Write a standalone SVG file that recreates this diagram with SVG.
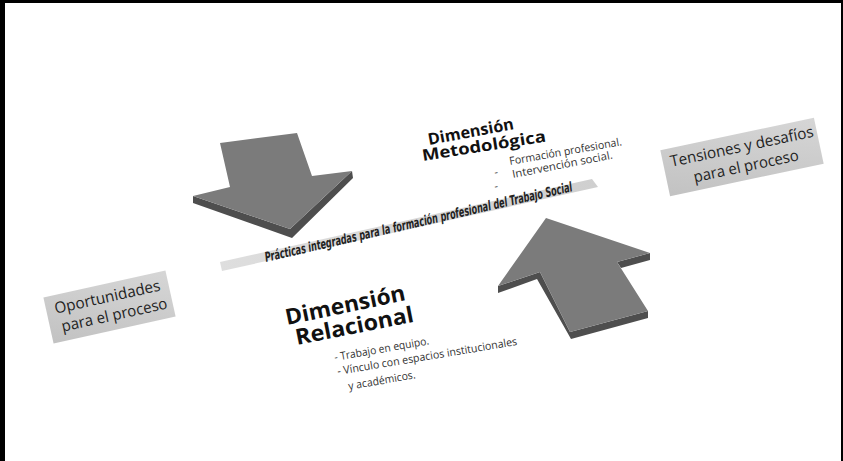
<svg xmlns="http://www.w3.org/2000/svg" width="843" height="461" viewBox="0 0 843 461">
<style>
.frame{fill:#000}
.face{fill:#7b7b7b}
.side{fill:#4e4e4e}
.box{fill:url(#boxg)}
.boxt{font-family:"Open Sans","Liberation Sans",sans-serif;font-size:15.5px;fill:#222;text-anchor:middle}
.head{font-family:"Open Sans","Liberation Sans",sans-serif;font-weight:700;fill:#111}
.body{font-family:"Open Sans","Liberation Sans",sans-serif;font-size:11px;fill:#333}
.prac{font-family:"DejaVu Sans Condensed","DejaVu Sans",sans-serif;font-weight:700;font-style:italic;font-size:13.5px;fill:#222}
</style>
<defs>
<linearGradient id="boxg" x1="0" y1="1" x2="1" y2="0">
<stop offset="0" stop-color="#c2c2c2"/>
<stop offset="1" stop-color="#d6d6d6"/>
</linearGradient>
<linearGradient id="bandg" x1="0" y1="0" x2="1" y2="0">
<stop offset="0" stop-color="#dedede"/>
<stop offset="1" stop-color="#cfcfcf"/>
</linearGradient>
</defs>
<rect width="843" height="461" fill="#fff"/>
<g id="frame">
<rect class="frame" x="0" y="0" width="5" height="461"/>
<rect class="frame" x="0" y="0" width="843" height="3"/>
<rect class="frame" x="841" y="0" width="2" height="461"/>
</g>
<g id="connectors">
<g id="arrow-down">
<polygon class="side" points="193,196 290,229 352,171 353,178 292,238 193,203"/>
<polygon class="face" points="220,143 297,133 312,176 352,171 290,229 193,196 230,187"/>
</g>
<g id="arrow-up">
<polygon class="side" points="498,286 540,272 570,332 648,311 648,318 571,339 537,279 498,293"/>
<polygon class="side" points="617,262 650,253 650,260 621,268"/>
<polygon class="face" points="546,218 650,253 617,262 648,311 570,332 540,272 498,286"/>
</g>
</g>
<g id="band">
<polygon points="220,262 592,179 598,187 222,271" fill="url(#bandg)"/>
<text class="prac" transform="translate(266,262) rotate(-13)" textLength="315" lengthAdjust="spacingAndGlyphs">Prácticas integradas para la formación profesional del Trabajo Social</text>
</g>
<g id="dim-metodologica">
<text class="head" font-size="16" transform="translate(429,145) rotate(-10.5)" textLength="87" lengthAdjust="spacingAndGlyphs">Dimensión</text>
<text class="head" font-size="16" transform="translate(423,161) rotate(-9)" textLength="125" lengthAdjust="spacingAndGlyphs">Metodológica</text>
<text class="body" transform="translate(495,176) rotate(-10)">-</text>
<text class="body" transform="translate(495,190) rotate(-10)">-</text>
<text class="body" transform="translate(510,165) rotate(-10)" textLength="114" lengthAdjust="spacingAndGlyphs">Formación profesional.</text>
<text class="body" transform="translate(513,178) rotate(-11)" textLength="102" lengthAdjust="spacingAndGlyphs">Intervención social.</text>
</g>
<g id="dim-relacional">
<text class="head" font-size="22" font-weight="600" transform="translate(287,325) rotate(-11.8)" textLength="122" lengthAdjust="spacingAndGlyphs">Dimensión</text>
<text class="head" font-size="22" font-weight="600" transform="translate(297,345) rotate(-11.2)" textLength="120" lengthAdjust="spacingAndGlyphs">Relacional</text>
<text class="body" transform="translate(335,361) rotate(-10)" textLength="96" lengthAdjust="spacingAndGlyphs">- Trabajo en equipo.</text>
<text class="body" transform="translate(338,375) rotate(-9.5)" textLength="182" lengthAdjust="spacingAndGlyphs">- Vínculo con espacios institucionales</text>
<text class="body" transform="translate(349,390) rotate(-10)" textLength="68" lengthAdjust="spacingAndGlyphs">y académicos.</text>
</g>
<g id="tensiones" transform="translate(742,157) rotate(-12)">
<rect class="box" x="-78.5" y="-23.5" width="157" height="47"/>
<text class="boxt" x="2" y="-5" textLength="146" lengthAdjust="spacingAndGlyphs">Tensiones y desafíos</text>
<text class="boxt" x="2" y="15" textLength="107" lengthAdjust="spacingAndGlyphs">para el proceso</text>
</g>
<g id="oportunidades" transform="translate(109.5,307) rotate(-12.5)">
<rect class="box" x="-62.5" y="-23.5" width="125" height="47"/>
<text class="boxt" x="0" y="-5" textLength="108" lengthAdjust="spacingAndGlyphs">Oportunidades</text>
<text class="boxt" x="3" y="14" textLength="108" lengthAdjust="spacingAndGlyphs">para el proceso</text>
</g>
</svg>
